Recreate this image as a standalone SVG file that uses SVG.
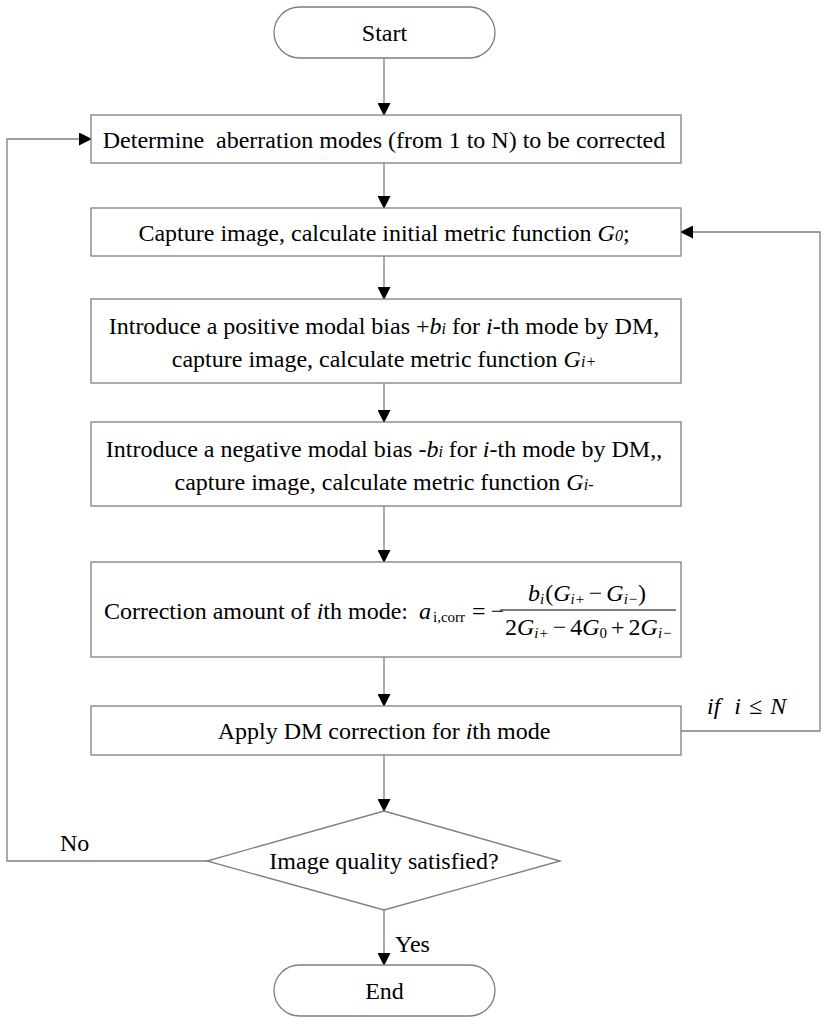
<svg xmlns="http://www.w3.org/2000/svg" width="825" height="1024" viewBox="0 0 825 1024">
<style>
.box{fill:#fff;stroke:#7f7f7f;stroke-width:1.3}
.ln{fill:none;stroke:#7f7f7f;stroke-width:1.3}
.t{font-family:"Liberation Serif","Times New Roman",serif;font-size:24px;fill:#000;text-anchor:middle}
.tl{font-family:"Liberation Serif","Times New Roman",serif;font-size:24px;fill:#000}
.i{font-style:italic}
.s{font-size:16px}
.m{font-size:15px}
</style>
<defs>
<marker id="ah" markerWidth="13" markerHeight="13" refX="12" refY="6.5" orient="auto" markerUnits="userSpaceOnUse">
<path d="M0,0 L13,6.5 L0,13 Z" fill="#000"/>
</marker>
</defs>
<rect width="825" height="1024" fill="#fff"/>
<g id="connectors">
<line class="ln" x1="384" y1="58" x2="384" y2="115" marker-end="url(#ah)"/>
<line class="ln" x1="384" y1="163" x2="384" y2="208" marker-end="url(#ah)"/>
<line class="ln" x1="384" y1="256" x2="384" y2="299" marker-end="url(#ah)"/>
<line class="ln" x1="384" y1="383" x2="384" y2="422" marker-end="url(#ah)"/>
<line class="ln" x1="384" y1="506" x2="384" y2="562" marker-end="url(#ah)"/>
<line class="ln" x1="384" y1="657" x2="384" y2="706" marker-end="url(#ah)"/>
<line class="ln" x1="384" y1="755" x2="384" y2="811" marker-end="url(#ah)"/>
<line class="ln" x1="384" y1="910" x2="384" y2="965" marker-end="url(#ah)"/>
<polyline class="ln" points="207,861 7,861 7,139 91,139" marker-end="url(#ah)"/>
<polyline class="ln" points="681,731 820,731 820,232 681,232" marker-end="url(#ah)"/>
<text class="tl" x="60" y="851">No</text>
<text class="tl" x="395" y="952">Yes</text>
<text class="tl i" x="707" y="714">if<tspan dx="14">i</tspan><tspan font-style="normal" dx="8">≤</tspan><tspan dx="8">N</tspan></text>
</g>
<g id="start">
<rect class="box" x="274" y="7" width="221" height="51" rx="25.5"/>
<text class="t" x="384.5" y="41">Start</text>
</g>
<g id="box1">
<rect class="box" x="91" y="115" width="590" height="48"/>
<text class="t" x="384" y="148" xml:space="preserve">Determine  aberration modes (from 1 to N) to be corrected</text>
</g>
<g id="box2">
<rect class="box" x="91" y="208" width="590" height="48"/>
<text class="t" x="384" y="241">Capture image, calculate initial metric function <tspan class="i">G</tspan><tspan class="i s">0</tspan>;</text>
</g>
<g id="box3">
<rect class="box" x="91" y="299" width="590" height="84"/>
<text class="t" x="384" y="334">Introduce a positive modal bias +<tspan class="i">b</tspan><tspan class="i s">i</tspan> for <tspan class="i">i</tspan>-th mode by DM,</text>
<text class="t" x="384" y="367">capture image, calculate metric function <tspan class="i">G</tspan><tspan class="i s">i+</tspan></text>
</g>
<g id="box4">
<rect class="box" x="91" y="422" width="590" height="84"/>
<text class="t" x="384" y="457">Introduce a negative modal bias -<tspan class="i">b</tspan><tspan class="i s">i</tspan> for <tspan class="i">i</tspan>-th mode by DM,,</text>
<text class="t" x="384" y="490">capture image, calculate metric function <tspan class="i">G</tspan><tspan class="i s">i-</tspan></text>
</g>
<g id="box5">
<rect class="box" x="91" y="562" width="590" height="95"/>
<text class="tl" x="104" y="619">Correction amount of <tspan class="i">i</tspan>th mode:</text>
<text class="tl" x="419" y="619"><tspan class="i">a</tspan><tspan class="m" dy="3" dx="2">i,corr</tspan><tspan dy="-3" dx="7">=</tspan><tspan dx="5">−</tspan></text>
<line x1="500" y1="610" x2="676" y2="610" stroke="#000" stroke-width="1.2"/>
<text class="tl" x="528" y="601"><tspan class="i">b</tspan><tspan class="i m" dy="3">i</tspan><tspan dy="-3" dx="1">(</tspan><tspan class="i">G</tspan><tspan class="i m" dy="3">i+</tspan><tspan dy="-3" dx="4">−</tspan><tspan class="i" dx="4">G</tspan><tspan class="i m" dy="3">i−</tspan><tspan dy="-3">)</tspan></text>
<text class="tl" x="505" y="635">2<tspan class="i">G</tspan><tspan class="i m" dy="3">i+</tspan><tspan dy="-3" dx="4">−</tspan><tspan dx="4">4</tspan><tspan class="i">G</tspan><tspan class="m" dy="3">0</tspan><tspan dy="-3" dx="4">+</tspan><tspan dx="4">2</tspan><tspan class="i">G</tspan><tspan class="i m" dy="3">i−</tspan></text>
</g>
<g id="box6">
<rect class="box" x="91" y="706" width="590" height="49"/>
<text class="t" x="384" y="739">Apply DM correction for <tspan class="i">i</tspan>th mode</text>
</g>
<g id="decision">
<polygon class="box" points="384,811 560,861 384,910 207,861"/>
<text class="t" x="384" y="869">Image quality satisfied?</text>
</g>
<g id="end">
<rect class="box" x="274" y="965" width="221" height="51" rx="25.5"/>
<text class="t" x="384.5" y="999">End</text>
</g>
</svg>
